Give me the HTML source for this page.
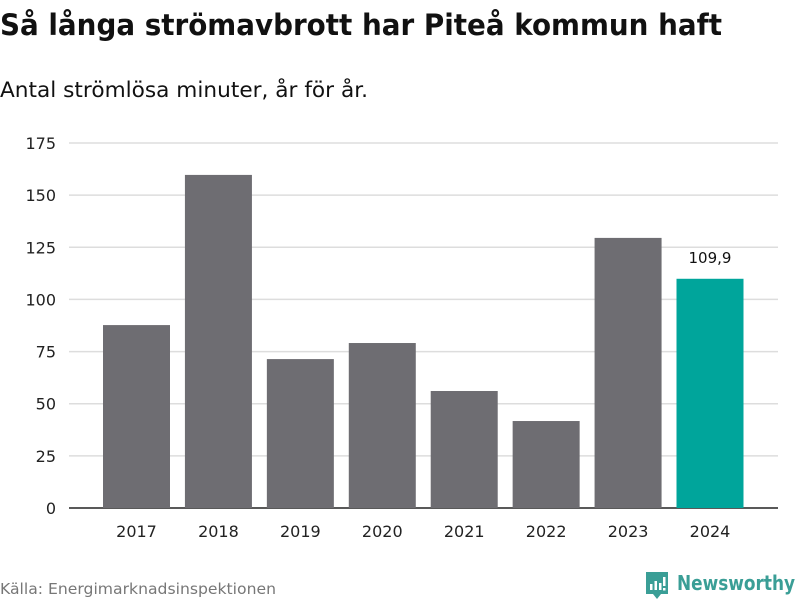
<!DOCTYPE html>
<html><head><meta charset="utf-8"><style>
body{margin:0;width:800px;height:600px;background:#fff;font-family:"DejaVu Sans","Liberation Sans",sans-serif;overflow:hidden}
svg{position:absolute;left:0;top:0}
</style></head><body>
<svg width="800" height="600">
<text x="0" y="35" font-size="29" font-weight="bold" fill="#111" textLength="722" lengthAdjust="spacingAndGlyphs">Så långa strömavbrott har Piteå kommun haft</text>
<text x="0" y="97" font-size="21" fill="#111" textLength="368" lengthAdjust="spacingAndGlyphs">Antal strömlösa minuter, år för år.</text>
<g id="grid"></g><g id="bars"></g><g id="xl"></g>
<text x="0" y="594" font-size="15" fill="#777" textLength="276" lengthAdjust="spacingAndGlyphs">Källa: Energimarknadsinspektionen</text>
<g>
<path d="M646 572 h22 v22 h-7 l-4 5 l-4 -5 h-7z" fill="#3a9e96"/>
<rect x="650" y="584" width="2.5" height="6" fill="#fff"/><rect x="654.5" y="581" width="2.5" height="9" fill="#fff"/><rect x="659" y="583" width="2.5" height="7" fill="#fff"/><rect x="663" y="577" width="2.5" height="9" fill="#fff"/><rect x="663" y="588" width="2.5" height="2.5" fill="#fff"/>
<text x="677" y="590" font-size="20" font-weight="bold" fill="#3a9e96" textLength="118" lengthAdjust="spacingAndGlyphs">Newsworthy</text>
</g>
</svg>
<script>
const categories=["2017","2018","2019","2020","2021","2022","2023","2024"];
const values=[87.7,159.7,71.4,79.1,56.1,41.7,129.5,109.9];
const ticks=[0,25,50,75,100,125,150,175];
const NS="http://www.w3.org/2000/svg";
const y0=508,yTop=143,yMax=175;
const y=v=>y0-(v/yMax)*(y0-yTop);
const xFirst=136.5,xLast=710,bw=67;
const x=i=>xFirst+(xLast-xFirst)*i/(categories.length-1);
function mk(t,a,p){const e=document.createElementNS(NS,t);for(const k in a)e.setAttribute(k,a[k]);p.appendChild(e);return e;}
const grid=document.getElementById('grid'),bars=document.getElementById('bars'),xl=document.getElementById('xl');
ticks.forEach(t=>{
 const l=mk('line',{x1:69,x2:778,y1:y(t),y2:y(t),stroke:t===0?'#222':'#ddd','stroke-width':1.5},grid);
 
 
 const tx=mk('text',{x:56,y:y(t)+6,'font-size':16,fill:'#222','text-anchor':'end'},grid);
 tx.textContent=t;
 
 
});
categories.forEach((c,i)=>{
 const last=i===categories.length-1;
 const r=mk('rect',{x:x(i)-bw/2,y:y(values[i]),width:bw,height:y0-y(values[i]),fill:last?'#00a59b':'#6e6d72'},bars);
 
 
 const t=mk('text',{x:x(i),y:537,'font-size':16,fill:'#222','text-anchor':'middle'},xl);
 t.textContent=c;
 
 
 if(last){
  const v=mk('text',{x:x(i),y:y(values[i])-16,'font-size':15,fill:'#111','text-anchor':'middle'},xl);
  v.textContent=String(values[i]).replace('.',',');
  
  
 }
});
</script>
</body></html>
